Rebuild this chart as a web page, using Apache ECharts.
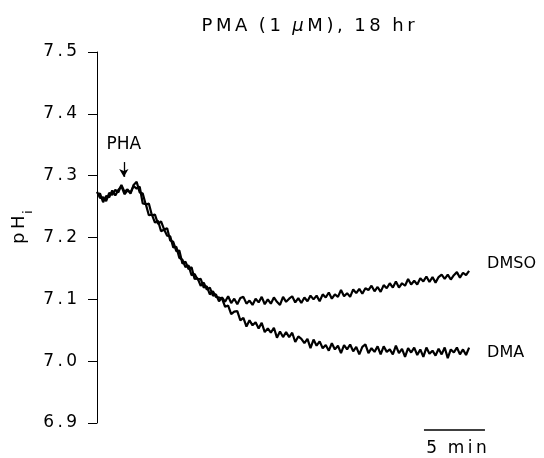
<!DOCTYPE html>
<html>
<head>
<meta charset="utf-8">
<script src="https://cdn.jsdelivr.net/npm/echarts@6/dist/echarts.min.js"></script>
<style>
  html, body { margin: 0; padding: 0; background: #fff; }
  #main { width: 544px; height: 458px; }
</style>
</head>
<body>
<div id="main"></div>
<script>
// time in minutes, one sample every 15 s
const times = [0,0.25,0.5,0.75,1,1.25,1.5,1.75,2,2.25,2.5,2.75,3,3.25,3.5,3.75,4,4.25,4.5,4.75,5,5.25,5.5,5.75,6,6.25,6.5,6.75,7,7.25,7.5,7.75,8,8.25,8.5,8.75,9,9.25,9.5,9.75,10,10.25,10.5,10.75,11,11.25,11.5,11.75,12,12.25,12.5,12.75,13,13.25,13.5,13.75,14,14.25,14.5,14.75,15,15.25,15.5,15.75,16,16.25,16.5,16.75,17,17.25,17.5,17.75,18,18.25,18.5,18.75,19,19.25,19.5,19.75,20,20.25,20.5,20.75,21,21.25,21.5,21.75,22,22.25,22.5,22.75,23,23.25,23.5,23.75,24,24.25,24.5,24.75,25,25.25,25.5,25.75,26,26.25,26.5,26.75,27,27.25,27.5,27.75,28,28.25,28.5,28.75,29,29.25,29.5,29.75,30,30.25,30.5]

const dmso = [
  7.274,7.264,7.265,7.259,7.272,7.269,7.277,7.273,7.285,7.274,
  7.278,7.271,7.285,7.290,7.273,7.271,7.253,7.255,7.236,7.237,
  7.222,7.226,7.213,7.215,7.195,7.193,7.178,7.179,7.158,7.161,
  7.149,7.152,7.133,7.134,7.122,7.127,7.116,7.119,7.106,7.108,
  7.097,7.103,7.096,7.105,7.094,7.101,7.092,7.102,7.104,7.093,
  7.098,7.091,7.101,7.095,7.104,7.092,7.100,7.093,7.103,7.096,
  7.091,7.104,7.096,7.101,7.105,7.095,7.102,7.094,7.103,7.097,
  7.106,7.100,7.106,7.097,7.108,7.103,7.111,7.101,7.108,7.104,
  7.115,7.105,7.110,7.104,7.116,7.110,7.117,7.109,7.118,7.115,
  7.122,7.113,7.120,7.112,7.123,7.118,7.126,7.119,7.129,7.119,
  7.126,7.122,7.133,7.124,7.130,7.124,7.134,7.129,7.137,7.128,
  7.136,7.127,7.136,7.140,7.133,7.140,7.132,7.139,7.144,7.135,
  7.143,7.139,7.146
]

const dma = [
  7.270,7.271,7.257,7.267,7.265,7.276,7.268,7.277,7.283,7.270,
  7.276,7.273,7.283,7.279,7.282,7.255,7.254,7.236,7.237,7.224,
  7.227,7.210,7.213,7.203,7.202,7.184,7.185,7.167,7.164,7.152,
  7.155,7.139,7.141,7.132,7.133,7.119,7.121,7.108,7.113,7.104,
  7.103,7.101,7.088,7.090,7.076,7.080,7.081,7.066,7.070,7.056,
  7.066,7.058,7.063,7.053,7.062,7.047,7.053,7.046,7.054,7.038,
  7.048,7.039,7.047,7.039,7.046,7.031,7.040,7.036,7.029,7.036,
  7.021,7.035,7.025,7.032,7.021,7.026,7.017,7.029,7.019,7.025,
  7.013,7.026,7.019,7.027,7.016,7.023,7.011,7.023,7.027,7.013,
  7.021,7.015,7.024,7.011,7.024,7.015,7.019,7.011,7.025,7.013,
  7.020,7.007,7.021,7.014,7.022,7.010,7.019,7.007,7.022,7.012,
  7.017,7.009,7.020,7.011,7.022,7.005,7.019,7.014,7.022,7.011,
  7.019,7.010,7.022
]

const phaTime = 2.2          // PHA added
const scaleStart = 26.8      // scale bar start, min
const scaleLen = 5           // scale bar length, min

const FONT = 'DejaVu Sans'
const TS = '\u2009'          // thin space, the original type is widely tracked

const pairs = (ys) => times.map((t, i) => [t, ys[i]])
const spread = (s) => s.split('').join(TS)

const chart = echarts.init(document.getElementById('main'))

const option = {
    animation: false,
    backgroundColor: '#fff',
    title: {
        text: spread('PMA') + '  (' + TS + '1  {mu|μ}' + TS + 'M' + TS + ')' + TS + ',  ' + spread('18') + '  ' + spread('hr'),
        left: 303,
        top: 12,
        textAlign: 'center',
        textStyle: {
            fontFamily: FONT, fontSize: 18, fontWeight: 'normal', color: '#000',
            rich: { mu: { fontFamily: FONT, fontSize: 18, fontStyle: 'italic', color: '#000' } }
        }
    },
    grid: { left: 97, top: 52, width: 402.6, height: 371, outerBoundsMode: 'none' },
    xAxis: { type: 'value', min: 0, max: 33, show: false },
    yAxis: {
        type: 'value', min: 6.9, max: 7.5, interval: 0.1,
        axisLine: { show: true, lineStyle: { color: '#000', width: 1 } },
        axisTick: { show: true, length: 9, lineStyle: { color: '#000', width: 1 } },
        splitLine: { show: false },
        axisLabel: {
            margin: 20, color: '#000', fontFamily: FONT, fontSize: 17,
            formatter: (v) => spread(v.toFixed(1))
        }
    },
    series: [
        {
            name: 'DMSO', type: 'line', data: pairs(dmso),
            showSymbol: false, lineStyle: { color: '#000', width: 2.2 },
            endLabel: { show: true, formatter: 'DMSO', distance: 18, offset: [0, -7], color: '#000', fontFamily: FONT, fontSize: 16 },
            markLine: {
                silent: true, symbol: ['none', 'arrow'], symbolSize: [7, 8],
                lineStyle: { color: '#000', width: 1.3, type: 'solid' },
                label: { show: true, position: 'start', formatter: 'PHA', distance: 9, color: '#000', fontFamily: FONT, fontSize: 17 },
                data: [[{ coord: [phaTime, 7.322] }, { coord: [phaTime, 7.298] }]]
            }
        },
        {
            name: 'DMA', type: 'line', data: pairs(dma),
            showSymbol: false, lineStyle: { color: '#000', width: 2.2 },
            endLabel: { show: true, formatter: 'DMA', distance: 18, offset: [0, 5], color: '#000', fontFamily: FONT, fontSize: 16 }
        }
    ]
}

chart.setOption(option)

// y axis name (pH with subscript i) and the 5 min scale bar
const a = chart.convertToPixel({ gridIndex: 0 }, [scaleStart, 6.9])
const b = chart.convertToPixel({ gridIndex: 0 }, [scaleStart + scaleLen, 6.9])
chart.setOption({
    graphic: [
        {
            type: 'group', x: 19, y: 244, rotation: Math.PI / 2,
            children: [
                { type: 'text', x: 0, y: 0, style: { text: 'p' + TS + 'H', font: '18px ' + FONT, fill: '#000', textAlign: 'left', textVerticalAlign: 'middle' } },
                { type: 'text', x: 30, y: 10, style: { text: 'i', font: '13px ' + FONT, fill: '#000', textAlign: 'left', textVerticalAlign: 'middle' } }
            ]
        },
        { type: 'line', shape: { x1: a[0], y1: a[1] + 7, x2: b[0], y2: b[1] + 7 }, style: { stroke: '#000', lineWidth: 1.5 } },
        { type: 'text', x: (a[0] + b[0]) / 2 + 2, y: a[1] + 26, style: { text: '5  ' + spread('min'), font: '17px ' + FONT, fill: '#000', textAlign: 'center', textVerticalAlign: 'middle' } }
    ]
})
</script>
</body>
</html>
